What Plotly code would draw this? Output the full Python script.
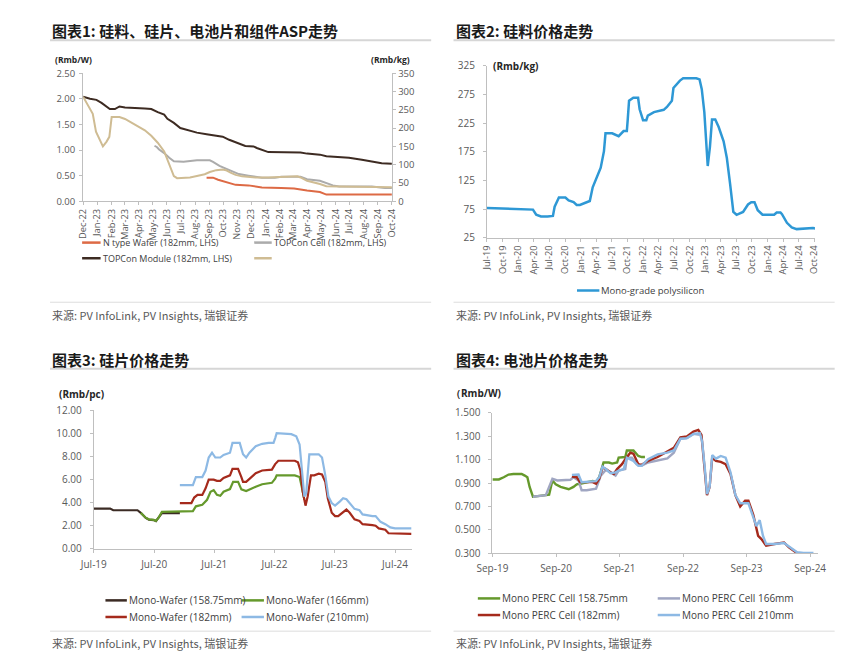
import plotly.graph_objects as go

# ---------------- DATA ----------------
# Chart 1 (Dec-22 .. Oct-24)
c1_wafer_dates = ["2023-08-26", "2023-09-09", "2023-09-20", "2023-10-07", "2023-10-28", "2023-11-25", "2023-12-24",
                  "2024-02-04", "2024-03-03", "2024-03-31", "2024-04-28", "2024-05-12", "2024-06-09", "2024-10-01"]
c1_wafer = [0.46, 0.46, 0.42, 0.37, 0.32, 0.31, 0.27, 0.26, 0.25, 0.21, 0.18, 0.13, 0.13, 0.13]

c1_cell_dates = ["2023-05-05", "2023-05-10", "2023-05-15", "2023-05-26", "2023-06-06", "2023-06-16", "2023-07-07",
                 "2023-07-21", "2023-08-05", "2023-09-02", "2023-09-09", "2023-09-23", "2023-10-07", "2023-10-17",
                 "2023-11-04", "2023-11-25", "2023-12-24", "2024-01-21", "2024-02-04", "2024-03-17", "2024-03-31",
                 "2024-04-28", "2024-05-12", "2024-05-26", "2024-06-09", "2024-08-19", "2024-09-16", "2024-10-01"]
c1_cell = [1.08, 1.06, 1.01, 0.94, 0.85, 0.78, 0.77, 0.78, 0.80, 0.80, 0.77, 0.69, 0.64, 0.59,
           0.53, 0.50, 0.46, 0.46, 0.48, 0.48, 0.43, 0.40, 0.35, 0.31, 0.29, 0.29, 0.26, 0.26]

c1_module_dates = ["2022-12-01", "2022-12-16", "2022-12-30", "2023-01-10", "2023-01-28", "2023-02-08", "2023-02-18",
                   "2023-03-02", "2023-04-14", "2023-04-28", "2023-05-12", "2023-05-26", "2023-06-02", "2023-06-16",
                   "2023-06-30", "2023-07-21", "2023-08-05", "2023-08-26", "2023-09-09", "2023-09-30", "2023-10-14",
                   "2023-10-28", "2023-11-18", "2023-12-06", "2023-12-13", "2024-01-07", "2024-03-03", "2024-03-17",
                   "2024-03-31", "2024-04-28", "2024-05-12", "2024-06-09", "2024-06-30", "2024-07-28", "2024-08-19",
                   "2024-09-09", "2024-10-01"]
c1_module = [2.04, 2.00, 1.98, 1.92, 1.80, 1.80, 1.85, 1.83, 1.81, 1.80, 1.74, 1.69, 1.61, 1.53, 1.43, 1.37, 1.34,
             1.31, 1.29, 1.26, 1.20, 1.15, 1.08, 1.07, 1.04, 0.96, 0.96, 0.95, 0.93, 0.91, 0.88, 0.86, 0.85, 0.81,
             0.77, 0.74, 0.73]

c1_poly_dates = ["2022-12-01", "2022-12-13", "2022-12-22", "2022-12-29", "2023-01-04", "2023-01-13", "2023-01-21",
                 "2023-01-27", "2023-02-01", "2023-02-18", "2023-03-02", "2023-03-16", "2023-03-31", "2023-04-14",
                 "2023-04-28", "2023-05-12", "2023-05-26", "2023-06-02", "2023-06-09", "2023-06-16", "2023-06-23",
                 "2023-07-07", "2023-07-21", "2023-08-05", "2023-08-22", "2023-09-02", "2023-09-16", "2023-09-30",
                 "2023-10-07", "2023-10-17", "2023-10-28", "2023-11-11", "2023-12-10", "2024-01-07", "2024-02-04",
                 "2024-03-10", "2024-03-17", "2024-03-31", "2024-04-28", "2024-05-12", "2024-06-09", "2024-08-19",
                 "2024-10-01"]
c1_poly = [286, 261, 239, 190, 172, 150, 163, 176, 230, 230, 225, 215, 203, 194, 179, 160, 136, 114, 87, 69, 63,
           63, 65, 69, 74, 80, 85, 87, 85, 78, 72, 68, 65, 65, 67, 68, 65, 56, 47, 41, 40, 40, 38]

c1_names = ["N type Wafer (182mm, LHS)", "TOPCon Cell (182mm, LHS)", "TOPCon Module (182mm, LHS)", ""]

# Chart 2 (mono-grade polysilicon, Rmb/kg)
c2_dates = ["2019-07-01", "2019-09-29", "2020-01-02", "2020-03-27", "2020-04-15", "2020-05-13", "2020-06-20",
            "2020-07-22", "2020-08-01", "2020-08-26", "2020-10-03", "2020-10-22", "2020-11-20", "2020-12-08",
            "2020-12-27", "2021-02-04", "2021-02-23", "2021-03-12", "2021-03-31", "2021-04-28", "2021-05-17",
            "2021-05-26", "2021-07-04", "2021-08-11", "2021-09-09", "2021-09-28", "2021-10-03", "2021-10-11",
            "2021-11-05", "2021-12-03", "2021-12-12", "2022-01-01", "2022-01-20", "2022-01-29", "2022-03-06",
            "2022-05-02", "2022-05-21", "2022-06-19", "2022-06-28", "2022-08-05", "2022-08-24", "2022-11-09",
            "2022-11-28", "2022-12-11", "2022-12-26", "2023-01-15", "2023-01-28", "2023-02-09", "2023-02-28",
            "2023-03-20", "2023-04-18", "2023-05-07", "2023-05-26", "2023-06-14", "2023-07-03", "2023-08-10",
            "2023-09-08", "2023-09-27", "2023-10-16", "2023-11-04", "2023-12-02", "2024-02-08", "2024-02-23",
            "2024-03-16", "2024-03-25", "2024-04-23", "2024-05-21", "2024-06-19", "2024-09-22", "2024-10-10"]
c2_poly = [77, 76, 74, 74, 65, 62, 62, 63, 79, 95, 95, 90, 87, 82, 82, 87, 89, 113, 127, 147,
           176, 207, 207, 202, 211, 211, 230, 264, 269, 269, 249, 230, 230, 238, 244, 248, 253, 264, 286, 299,
           303, 303, 301, 284, 244, 150, 184, 231, 231, 218, 193, 164, 119, 70, 65, 70, 83, 87, 87, 73,
           65, 65, 69, 69, 66, 51, 43, 40, 42, 41]
c2_name = "Mono-grade polysilicon"

# Chart 3 (mono wafers, Rmb/pc)
c3_w158_dates = ["2019-07-01", "2019-10-08", "2019-10-27", "2020-03-22", "2020-04-11", "2020-05-11", "2020-05-30",
                 "2020-06-29", "2020-07-12", "2020-07-28", "2020-08-17", "2020-12-04"]
c3_w158 = [3.47, 3.47, 3.33, 3.33, 3.11, 2.66, 2.52, 2.47, 2.38, 2.66, 3.08, 3.08]

c3_w166_dates = ["2020-04-11", "2020-05-11", "2020-05-30", "2020-06-29", "2020-07-12", "2020-07-28", "2020-08-17",
                 "2021-01-03", "2021-02-21", "2021-03-11", "2021-04-19", "2021-05-18", "2021-06-08", "2021-06-27",
                 "2021-07-17", "2021-08-06", "2021-08-26", "2021-10-04", "2021-10-23", "2021-11-22", "2021-12-12",
                 "2022-01-10", "2022-01-30", "2022-03-09", "2022-04-17", "2022-05-26", "2022-06-15", "2022-07-05",
                 "2022-07-14", "2022-11-01", "2022-11-30", "2022-12-13", "2022-12-29"]
c3_w166 = [3.10, 2.68, 2.54, 2.49, 2.40, 2.68, 3.19, 3.19, 3.25, 3.67, 3.81, 4.24, 4.94, 5.08, 4.66, 4.58, 4.94,
           5.17, 5.79, 5.79, 5.14, 5.00, 5.14, 5.37, 5.59, 5.71, 5.71, 6.07, 6.36, 6.36, 6.21, 5.37, 4.24]

c3_w182_dates = ["2020-12-04", "2021-02-12", "2021-03-01", "2021-03-21", "2021-04-19", "2021-05-09", "2021-05-28",
                 "2021-06-27", "2021-07-17", "2021-08-06", "2021-08-26", "2021-10-04", "2021-10-19", "2021-11-22",
                 "2021-12-12", "2021-12-22", "2022-01-10", "2022-01-30", "2022-03-09", "2022-04-17", "2022-05-26",
                 "2022-06-15", "2022-07-05", "2022-07-24", "2022-11-01", "2022-11-20", "2022-12-05", "2022-12-19",
                 "2023-01-05", "2023-01-18", "2023-02-07", "2023-02-27", "2023-03-26", "2023-04-15", "2023-05-05",
                 "2023-05-20", "2023-06-13", "2023-07-03", "2023-07-22", "2023-08-21", "2023-09-10", "2023-09-30",
                 "2023-10-29", "2023-11-28", "2023-12-17", "2024-02-15", "2024-03-05", "2024-03-24", "2024-05-03",
                 "2024-05-22", "2024-10-08"]
c3_w182 = [3.95, 3.95, 4.43, 4.66, 4.66, 5.23, 5.99, 5.99, 5.88, 5.88, 6.13, 6.36, 6.92, 6.92, 6.21, 5.79, 5.79,
           6.07, 6.55, 6.78, 6.86, 6.86, 7.34, 7.63, 7.63, 7.49, 6.78, 4.94, 3.73, 4.52, 6.36, 6.36, 6.50, 6.44,
           5.79, 4.38, 3.11, 2.82, 2.82, 3.16, 3.39, 3.11, 2.54, 2.40, 2.12, 2.03, 1.98, 1.75, 1.64, 1.33, 1.27]

c3_w210_dates = ["2020-12-04", "2021-02-21", "2021-03-11", "2021-04-19", "2021-05-09", "2021-05-28", "2021-06-17",
                 "2021-07-07", "2021-08-06", "2021-08-26", "2021-10-04", "2021-10-19", "2021-12-02", "2021-12-22",
                 "2022-01-10", "2022-01-30", "2022-03-09", "2022-04-17", "2022-05-26", "2022-06-25", "2022-07-05",
                 "2022-07-14", "2022-10-11", "2022-11-10", "2022-11-30", "2022-12-13", "2022-12-29", "2023-01-09",
                 "2023-01-28", "2023-03-26", "2023-04-15", "2023-05-05", "2023-05-24", "2023-06-13", "2023-07-03",
                 "2023-08-02", "2023-08-21", "2023-09-10", "2023-09-30", "2023-10-29", "2023-11-28", "2023-12-17",
                 "2024-02-15", "2024-03-05", "2024-04-04", "2024-05-03", "2024-06-02", "2024-07-01", "2024-10-08"]
c3_w210 = [5.51, 5.51, 6.21, 6.21, 6.78, 7.91, 8.33, 7.91, 7.91, 8.14, 8.33, 9.18, 9.18, 8.19, 7.91, 8.33, 8.90,
           9.10, 9.18, 9.18, 9.60, 10.03, 9.94, 9.75, 9.04, 7.06, 4.52, 4.80, 8.19, 8.19, 7.91, 6.36, 4.52, 3.95,
           3.73, 4.10, 4.38, 4.29, 3.95, 3.45, 3.33, 2.97, 2.82, 2.82, 2.32, 2.12, 1.84, 1.75, 1.75]

c3_names = ["Mono-Wafer (158.75mm)", "Mono-Wafer (166mm)", "Mono-Wafer (182mm)", "Mono-Wafer (210mm)"]

# Chart 4 (mono PERC cells, Rmb/W)
c4_c158_dates = ["2019-09-01", "2019-10-08", "2019-11-05", "2019-12-03", "2019-12-31", "2020-02-16", "2020-03-05",
                 "2020-03-20", "2020-04-02", "2020-04-21", "2020-05-18", "2020-07-04", "2020-07-23", "2020-08-11",
                 "2020-08-30", "2020-09-27", "2020-11-13", "2020-12-10", "2020-12-29", "2021-01-17", "2021-02-24",
                 "2021-03-31", "2021-04-19", "2021-05-07", "2021-06-01", "2021-07-02", "2021-07-21", "2021-08-18",
                 "2021-08-27", "2021-10-04", "2021-10-13", "2021-11-20", "2021-12-18", "2022-01-06", "2022-01-25"]
c4_c158 = [0.931, 0.931, 0.950, 0.973, 0.978, 0.978, 0.964, 0.950, 0.867, 0.783, 0.788, 0.797, 0.800, 0.922,
           0.889, 0.867, 0.847, 0.867, 0.889, 0.894, 0.908, 0.917, 0.908, 0.950, 1.076, 1.076, 1.067, 1.076,
           1.118, 1.123, 1.179, 1.179, 1.132, 1.123, 1.123]

c4_c166_dates = ["2020-04-21", "2020-07-04", "2020-08-11", "2020-09-08", "2020-11-22", "2020-12-10", "2021-01-08",
                 "2021-01-26", "2021-02-24", "2021-03-31", "2021-04-19", "2021-05-16", "2021-06-14", "2021-07-11",
                 "2021-08-09", "2021-08-27", "2021-10-04", "2021-10-13", "2021-11-11", "2021-12-08", "2022-01-06",
                 "2022-02-12", "2022-04-08", "2022-06-03", "2022-07-10", "2022-08-17", "2022-09-23", "2022-10-31",
                 "2022-12-07"]
c4_c166 = [0.783, 0.797, 0.936, 0.922, 0.928, 0.950, 0.922, 0.839, 0.839, 0.847, 0.853, 0.964, 1.012, 0.992,
           0.964, 1.006, 1.020, 1.118, 1.118, 1.062, 1.048, 1.076, 1.095, 1.112, 1.160, 1.280, 1.285, 1.321, 1.313]

c4_c182_dates = ["2020-12-01", "2020-12-29", "2021-01-17", "2021-02-24", "2021-03-31", "2021-04-19", "2021-05-07",
                 "2021-05-26", "2021-06-14", "2021-07-11", "2021-07-30", "2021-08-18", "2021-09-15", "2021-10-04",
                 "2021-11-02", "2021-11-20", "2021-12-18", "2022-01-06", "2022-02-12", "2022-04-08", "2022-06-03",
                 "2022-07-10", "2022-08-17", "2022-09-23", "2022-10-31", "2022-11-28", "2022-12-16", "2023-01-04",
                 "2023-01-17", "2023-02-01", "2023-02-16", "2023-03-09", "2023-04-06", "2023-05-04", "2023-06-01",
                 "2023-06-29", "2023-07-27", "2023-08-24", "2023-09-12", "2023-10-10", "2023-11-07", "2023-11-26",
                 "2023-12-23", "2024-02-09", "2024-04-04", "2024-05-02", "2024-06-09", "2024-06-27"]
c4_c182 = [0.956, 0.950, 0.908, 0.908, 0.908, 0.894, 0.936, 1.034, 1.020, 0.992, 0.978, 1.020, 1.062, 1.104,
           1.160, 1.151, 1.062, 1.056, 1.090, 1.123, 1.168, 1.201, 1.291, 1.299, 1.341, 1.355, 1.313, 1.034,
           0.797, 0.867, 1.118, 1.090, 1.081, 1.062, 0.978, 0.797, 0.699, 0.749, 0.749, 0.629, 0.448, 0.420,
           0.364, 0.378, 0.392, 0.350, 0.308, 0.290]

c4_c210_dates = ["2020-12-01", "2021-01-08", "2021-01-26", "2021-04-19", "2021-05-07", "2021-05-26", "2021-06-14",
                 "2021-07-11", "2021-08-09", "2021-08-27", "2021-09-25", "2021-10-13", "2021-11-20", "2021-12-18",
                 "2022-01-06", "2022-02-12", "2022-04-08", "2022-06-03", "2022-07-10", "2022-08-17", "2022-09-23",
                 "2022-10-31", "2022-12-07", "2022-12-20", "2023-01-04", "2023-01-17", "2023-02-01", "2023-02-16",
                 "2023-03-09", "2023-04-06", "2023-05-04", "2023-06-01", "2023-06-29", "2023-07-27", "2023-09-12",
                 "2023-10-10", "2023-10-28", "2023-11-16", "2023-12-05", "2023-12-23", "2024-02-09", "2024-04-04",
                 "2024-05-11", "2024-06-18", "2024-07-25", "2024-09-20"]
c4_c210 = [0.970, 0.973, 0.908, 0.917, 0.950, 1.040, 1.020, 0.984, 0.992, 1.006, 1.020, 1.118, 1.090, 1.048,
           1.048, 1.104, 1.146, 1.160, 1.179, 1.280, 1.285, 1.321, 1.327, 1.257, 1.034, 0.805, 0.867, 1.140,
           1.109, 1.132, 1.118, 0.992, 0.797, 0.727, 0.727, 0.615, 0.532, 0.582, 0.448, 0.378, 0.378, 0.387,
           0.350, 0.308, 0.302, 0.302]

c4_names = ["Mono PERC Cell 158.75mm", "Mono PERC Cell 166mm", "Mono PERC Cell (182mm)", "Mono PERC Cell 210mm"]

titles = ["图表1: 硅料、硅片、电池片和组件ASP走势", "图表2: 硅料价格走势", "图表3: 硅片价格走势", "图表4: 电池片价格走势"]
source_text = "来源: PV InfoLink, PV Insights, 瑞银证券"

# ---------------- STYLE / LAYOUT ----------------
W, H = 866, 667


def fx(px):
    return px / W


def fy(py):
    return 1 - py / H


FONT = "Open Sans, Noto Sans, sans-serif"
CJK = "Noto Sans CJK SC, Noto Sans, sans-serif"
AX = "#BFBFBF"
TXT = "#595959"

fig = go.Figure()


def add(x, y, color, width, xa, ya):
    fig.add_trace(go.Scatter(x=x, y=y, mode="lines", line=dict(color=color, width=width),
                             xaxis=xa, yaxis=ya, showlegend=False, hoverinfo="skip"))


col1 = ["#DD6A45", "#ABABAB", "#3D2B22", "#CFBC93"]
add(c1_poly_dates, c1_poly, col1[3], 2, "x", "y2")
add(c1_module_dates, c1_module, col1[2], 2, "x", "y")
add(c1_cell_dates, c1_cell, col1[1], 2, "x", "y")
add(c1_wafer_dates, c1_wafer, col1[0], 2, "x", "y")

col2 = "#2E98D5"
add(c2_dates, c2_poly, col2, 2.5, "x2", "y3")

col3 = ["#3B2B24", "#65992C", "#A52A1C", "#8DB9E4"]
add(c3_w158_dates, c3_w158, col3[0], 2.2, "x3", "y4")
add(c3_w166_dates, c3_w166, col3[1], 2.2, "x3", "y4")
add(c3_w182_dates, c3_w182, col3[2], 2.2, "x3", "y4")
add(c3_w210_dates, c3_w210, col3[3], 2.2, "x3", "y4")

col4 = ["#65992C", "#A0A6C2", "#A52A1C", "#8DB9E4"]
add(c4_c158_dates, c4_c158, col4[0], 2.4, "x4", "y5")
add(c4_c166_dates, c4_c166, col4[1], 2.4, "x4", "y5")
add(c4_c182_dates, c4_c182, col4[2], 2.4, "x4", "y5")
add(c4_c210_dates, c4_c210, col4[3], 2.4, "x4", "y5")


def xax(dom, anchor, rng, dtick, tick0, angle, size, standoff=0):
    return dict(domain=dom, anchor=anchor, type="date", range=rng, dtick=dtick, tick0=tick0,
                tickformat="%b-%y", tickangle=angle, showline=True, linecolor=AX, linewidth=1,
                ticks="outside", ticklen=3, tickcolor=AX, showgrid=False, zeroline=False,
                ticklabelstandoff=standoff,
                tickfont=dict(family=FONT, size=size, color=TXT))


def yax(dom, anchor, rng, dtick, tick0, fmt, size, standoff=0, **kw):
    d = dict(domain=dom, anchor=anchor, range=rng, dtick=dtick, tick0=tick0, tickformat=fmt,
             showline=True, linecolor=AX, linewidth=1, ticks="outside", ticklen=3, tickcolor=AX,
             showgrid=False, zeroline=False, ticklabelstandoff=standoff,
             tickfont=dict(family=FONT, size=size, color=TXT))
    d.update(kw)
    return d


fig.update_layout(
    width=W, height=H, margin=dict(l=0, r=0, t=0, b=0),
    paper_bgcolor="white", plot_bgcolor="white", showlegend=False,
    xaxis=xax([fx(69), fx(387)], "y", ["2022-12-01", "2024-10-02"], "M1", "2022-12-01", -90, 9.3),
    yaxis=yax([fy(197.7), fy(66.7)], "x", [0, 2.5], 0.5, 0, ".2f", 9.5, 2),
    yaxis2=yax([fy(197.7), fy(66.7)], "x", [0, 350], 50, 0, "d", 9.5, 0, overlaying="y", side="right"),
    xaxis2=xax([fx(484.3), fx(821.7)], "y3", ["2019-07-01", "2024-10-04"], "M3", "2019-07-01", -90, 9.3),
    yaxis3=yax([fy(235), fy(59)], "x2", [25, 325], 50, 25, "d", 10, 6),
    xaxis3=xax([fx(80), fx(407)], "y4", ["2019-07-01", "2024-10-10"], "M12", "2019-07-01", 0, 10, 3),
    yaxis4=yax([fy(553), fy(411.7)], "x3", [0, 12], 2, 0, ".2f", 10, 6),
    xaxis4=xax([fx(490), fx(825)], "y5", ["2019-09-01", "2024-10-17"], "M12", "2019-09-01", 0, 10, 3),
    yaxis5=yax([fy(557.7), fy(414.3)], "x4", [0.3, 1.5], 0.2, 0.3, ".3f", 10, 6),
)

ann = []
shp = []


def text(x, y, s, size, color="#404040", family=FONT, bold=False, anchor="left"):
    ann.append(dict(x=fx(x), y=fy(y), xref="paper", yref="paper", xanchor=anchor, yanchor="middle",
                    text=("<b>%s</b>" % s) if bold else s, showarrow=False,
                    font=dict(family=family, size=size, color=color)))


def hline(x0, x1, y, color, width):
    shp.append(dict(type="line", xref="paper", yref="paper", x0=fx(x0), x1=fx(x1), y0=fy(y), y1=fy(y),
                    line=dict(color=color, width=width)))


# titles + underlines
for (tx, ty, uy), t in zip([(35, 23, 33), (450, 23, 33), (35, 360, 369), (450, 360, 369)], titles):
    text(tx, ty, t, 15, color="#1A1A1A", family=CJK, bold=True)
    hline(tx, tx + 392, uy, "#D6D6D6", 2)

# source separators and sources
for (sx, sy, ly) in [(35, 314, 301), (450, 314, 301), (35, 650, 637.5), (450, 650, 637.5)]:
    hline(sx, sx + 392, ly, "#DDDDDD", 1)
    text(sx, sy, source_text, 11, color="#595959", family=CJK)

# unit labels
text(38, 53, "(Rmb/W)", 8.5, color="#262626", bold=True)
text(407, 53, "(Rmb/kg)", 8.5, color="#262626", bold=True, anchor="right")
text(489, 59, "(Rmb/kg)", 10, color="#262626", bold=True)
text(42, 395, "(Rmb/pc)", 10, color="#262626", bold=True)
text(445, 394, "（Rmb/W)", 10, color="#262626", bold=True)


def legend_item(x0, x1, y, color, label, size):
    hline(x0, x1, y, color, 2.5)
    if label:
        text(x1, y, label, size, color="#404040")


# chart 1 legend
legend_item(68, 87, 240, col1[0], c1_names[0], 9)
legend_item(245, 263, 240, col1[1], c1_names[1], 9)
legend_item(68, 87, 256, col1[2], c1_names[2], 9)
legend_item(245, 263, 256, col1[3], c1_names[3], 9)
# chart 2 legend
legend_item(577, 600, 289, col2, c2_name, 9.5)
# chart 3 legend
legend_item(92, 114, 606, col3[0], c3_names[0], 10)
legend_item(232, 255, 606, col3[1], c3_names[1], 10)
legend_item(92, 114, 623, col3[2], c3_names[2], 10)
legend_item(232, 255, 623, col3[3], c3_names[3], 10)
# chart 4 legend
legend_item(475, 498, 604, col4[0], c4_names[0], 10)
legend_item(660, 683, 604, col4[1], c4_names[1], 10)
legend_item(475, 498, 621, col4[2], c4_names[2], 10)
legend_item(660, 683, 621, col4[3], c4_names[3], 10)

fig.update_layout(annotations=ann, shapes=shp)

fig.write_html("out.html", config={"displayModeBar": False},
               post_script="document.body.style.margin='0';document.body.style.overflow='hidden';")
